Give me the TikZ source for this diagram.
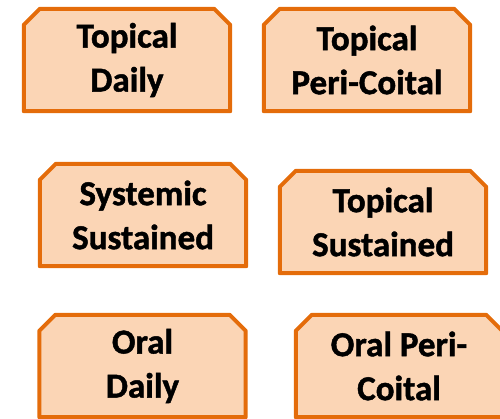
\documentclass[tikz,border=0pt]{standalone}
\usepackage{fontspec}
\setmainfont{Carlito}[BoldFont={Carlito Bold}, BoldFeatures={FakeBold=1.3}]
\usetikzlibrary{backgrounds}

\definecolor{boxorange}{HTML}{E46C0A}
\definecolor{boxpeach}{HTML}{FBD5B5}

\tikzset{
    methodbox/.style={
        rectangle, minimum width=206pt, minimum height=102pt,
        inner sep=0pt, align=center,
        font=\bfseries\fontsize{35}{44}\selectfont
    },
    boxline/.style={draw=boxorange, fill=boxpeach, line width=4pt, line join=round}
}

\begin{document}
\begin{tikzpicture}[x=1pt, y=-1pt]
    \useasboundingbox (0,0) rectangle (500,418);
    \clip (0,0) rectangle (500,418);

    \node[methodbox] (topdaily) at (127,60) {Topical\\Daily};
    \node[methodbox] (topperi) at (367,60) {Topical\\Peri-Coital};

    \node[methodbox] (syssust) at (143,215) {Systemic\\Sustained};
    \node[methodbox] (topsust) at (383,222) {Topical\\Sustained};

    \node[methodbox] (oraldaily) at (142.5,366) {Oral\\Daily};
    \node[methodbox] (oralperi) at (399,366) {Oral Peri-\\Coital};

    % snipped top corners
    \begin{scope}[on background layer]
        \foreach \n in {topdaily, topperi, syssust, topsust, oraldaily, oralperi}
            \draw[boxline] ([yshift=-16pt]\n.north west) -- ([xshift=16pt]\n.north west)
                -- ([xshift=-16pt]\n.north east) -- ([yshift=-16pt]\n.north east)
                -- (\n.south east) -- (\n.south west) -- cycle;
    \end{scope}
\end{tikzpicture}
\end{document}
